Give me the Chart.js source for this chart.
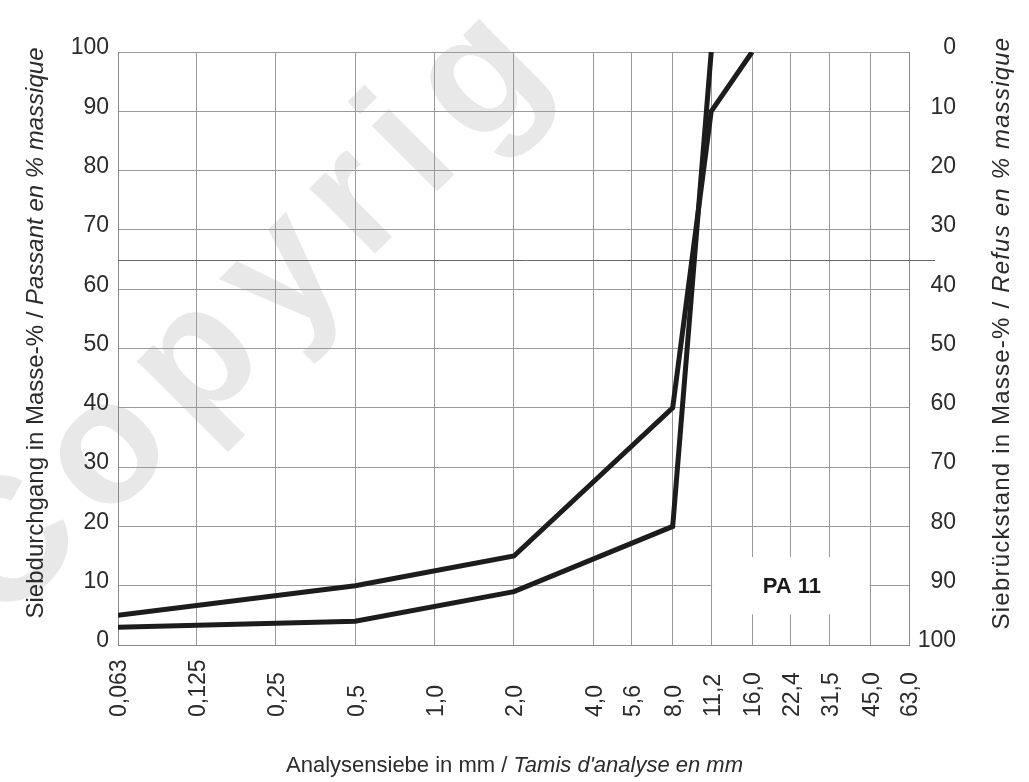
<!DOCTYPE html>
<html>
<head>
<meta charset="utf-8">
<script src="https://cdn.jsdelivr.net/npm/chart.js@4/dist/chart.umd.min.js"></script>
<style>
  body { margin: 0; background: #fff; }
  #wrap { width: 1029px; height: 782px; position: relative; }
</style>
</head>
<body>
<div id="wrap"><canvas id="sieve_chart"></canvas></div>
<script>
// sieve sizes (mm) and their labels on the x axis
var sieveSizes = [0.063, 0.125, 0.25, 0.5, 1, 2, 4, 5.6, 8, 11.2, 16, 22.4, 31.5, 45, 63];
var sieveLabels = ["0,063", "0,125", "0,25", "0,5", "1,0", "2,0", "4,0", "5,6", "8,0", "11,2", "16,0", "22,4", "31,5", "45,0", "63,0"];

// upper limit curve
var upperSizes = [0.063, 0.5, 2, 8, 11.2, 16];
var upperPassing = [5, 10, 15, 40, 90, 100];

// lower limit curve
var lowerSizes = [0.063, 0.5, 2, 8, 11.2];
var lowerPassing = [3, 4, 9, 20, 100];

var gradeLabel = "PA 11";
var xTitle = ["Analysensiebe in mm / ", "Tamis d'analyse en mm"];
var yTitleLeft = ["Siebdurchgang in Masse-% / ", "Passant en % massique"];
var yTitleRight = ["Siebrückstand in Masse-% / ", "Refus en % massique"];

var fontFamily = "'Liberation Sans', Arial, Helvetica, sans-serif";
var textColor = "#2b2b2b";

function toPoints(sizes, values) {
  return sizes.map(function (s, i) { return { x: s, y: values[i] }; });
}

// text with a normal part and an italic part, centered on (cx, cy)
function drawMixed(ctx, parts, cx, cy, angle, size, spacing) {
  ctx.save();
  ctx.translate(cx, cy);
  ctx.rotate(angle);
  ctx.fillStyle = textColor;
  ctx.textBaseline = "middle";
  ctx.textAlign = "left";
  ctx.letterSpacing = (spacing || 0) + "px";
  var fonts = [size + "px " + fontFamily, "italic " + size + "px " + fontFamily];
  var widths = parts.map(function (p, i) { ctx.font = fonts[i]; return ctx.measureText(p).width; });
  var x = -(widths[0] + widths[1]) / 2;
  parts.forEach(function (p, i) {
    ctx.font = fonts[i];
    ctx.fillText(p, x, 0);
    x += widths[i];
  });
  ctx.restore();
}

var decorPlugin = {
  id: "decor",
  beforeDraw: function (chart) {
    // faint watermark behind the grid
    var ctx = chart.ctx;
    ctx.save();
    ctx.translate(110, 455);
    ctx.rotate(-Math.PI / 4);
    ctx.font = "bold 175px " + fontFamily;
    ctx.letterSpacing = "20px";
    ctx.fillStyle = "#e8e8e8";
    ctx.textBaseline = "alphabetic";
    ctx.fillText("Copyrig", -200, 45);
    ctx.restore();
  },
  beforeDatasetsDraw: function (chart) {
    var ctx = chart.ctx;
    var x = chart.scales.x;
    var y = chart.scales.y;
    var area = chart.chartArea;

    // the 65 % line runs a little past the frame
    ctx.save();
    ctx.strokeStyle = "#666";
    ctx.lineWidth = 1;
    ctx.beginPath();
    var y65 = Math.round(y.getPixelForValue(65)) + 0.5;
    ctx.moveTo(area.left, y65);
    ctx.lineTo(area.right + 26, y65);
    ctx.stroke();

    // white label box
    var l = x.getPixelForValue(11.2), r = x.getPixelForValue(45);
    var t = y.getPixelForValue(15), b = y.getPixelForValue(5);
    ctx.fillStyle = "#fff";
    ctx.fillRect(l + 1, t + 1, r - l - 2, b - t - 2);
    ctx.fillStyle = "#1a1a1a";
    ctx.font = "bold 22px " + fontFamily;
    ctx.textAlign = "center";
    ctx.textBaseline = "middle";
    ctx.fillText(gradeLabel, (l + r) / 2 + 1, (t + b) / 2 + 1);
    ctx.restore();
  },
  afterDraw: function (chart) {
    var ctx = chart.ctx;
    var x = chart.scales.x;
    var area = chart.chartArea;

    // x labels, rotated, bottom aligned
    ctx.save();
    ctx.fillStyle = textColor;
    ctx.font = "23px " + fontFamily;
    ctx.textAlign = "left";
    ctx.textBaseline = "middle";
    sieveSizes.forEach(function (s, i) {
      ctx.save();
      ctx.translate(x.getPixelForValue(s) + 2, area.bottom + 72);
      ctx.rotate(-Math.PI / 2);
      ctx.fillText(sieveLabels[i], 0, 0);
      ctx.restore();
    });
    ctx.restore();

    drawMixed(ctx, xTitle, (area.left + area.right) / 2 + 1, 766, 0, 22);
    drawMixed(ctx, yTitleLeft, 36, 333, -Math.PI / 2, 24);
    drawMixed(ctx, yTitleRight, 1002, 333, -Math.PI / 2, 24, 1.2);
  }
};

const ctx = document.getElementById("sieve_chart");

new Chart(ctx, {
  type: "line",
  data: {
    datasets: [
      {
        label: "upper",
        data: toPoints(upperSizes, upperPassing),
        borderColor: "#1c1c1c",
        borderWidth: 5,
        pointRadius: 0,
        tension: 0,
        fill: false,
      },
      {
        label: "lower",
        data: toPoints(lowerSizes, lowerPassing),
        borderColor: "#1c1c1c",
        borderWidth: 5,
        pointRadius: 0,
        tension: 0,
        fill: false,
      },
    ],
  },
  options: {
    responsive: true,
    maintainAspectRatio: false,
    animation: false,
    layout: { padding: { top: 52, left: 0, right: 73, bottom: 0 } },
    plugins: {
      legend: { display: false },
      tooltip: { enabled: false },
    },
    scales: {
      x: {
        type: "logarithmic",
        min: 0.063,
        max: 63,
        afterBuildTicks: function (scale) {
          scale.ticks = sieveSizes.map(function (s) { return { value: s }; });
        },
        afterFit: function (scale) { scale.height = 137; },
        ticks: { display: false },
        grid: { color: "#9a9a9a", lineWidth: 1, drawTicks: false },
        border: { color: "#888", width: 1 },
      },
      y: {
        position: "left",
        min: 0,
        max: 100,
        afterFit: function (scale) { scale.width = 118; },
        ticks: {
          stepSize: 5,
          padding: 9,
          labelOffset: -4,
          color: textColor,
          font: { family: fontFamily, size: 23 },
          callback: function (v) { return v % 10 === 0 ? String(v) : ""; },
        },
        grid: {
          drawTicks: false,
          lineWidth: 1,
          color: function (c) { return c.tick && c.tick.value === 65 ? "#666" : "#9a9a9a"; },
        },
        border: { color: "#888", width: 1 },
      },
      y2: {
        position: "right",
        min: 0,
        max: 100,
        reverse: true,
        afterFit: function (scale) { scale.width = 47; },
        ticks: {
          stepSize: 10,
          padding: 14,
          labelOffset: -4,
          crossAlign: "far",
          color: textColor,
          font: { family: fontFamily, size: 23 },
        },
        grid: { drawOnChartArea: false, drawTicks: false },
        border: { color: "#888", width: 1 },
      },
    },
  },
  plugins: [decorPlugin],
});
</script>
</body>
</html>
